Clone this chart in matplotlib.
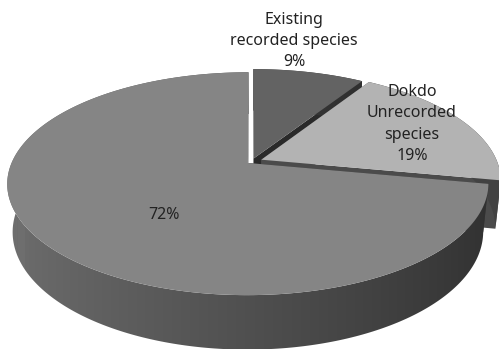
import matplotlib
matplotlib.use("Agg")
import matplotlib.pyplot as plt
from matplotlib.patches import Polygon
import numpy as np

# species share (%)
labels = ["Existing\nrecorded species", "Dokdo\nUnrecorded\nspecies", ""]
values = [9, 19, 72]
tops = ["#636363", "#b3b3b3", "#858585"]
explode = [0.03, 0.045, 0.02]

# camera / pie layout (pixel space)
W, H = 499, 349
cx, cy = 251.6, 161.6
F, D = 1132.0, 4.8
elev = np.radians(27)
se, ce = np.sin(elev), np.cos(elev)
h = 0.23


def proj(X, Y, Z):
    depth = D + Y * ce - Z * se
    up = Y * se + Z * ce
    return cx + F * X / depth, cy - F * up / depth


def shade(color, f):
    c = np.array(matplotlib.colors.to_rgb(color)) * np.asarray(f)[..., None]
    return np.clip(c, 0, 1)


fig = plt.figure(figsize=(4.99, 3.49), dpi=100)
ax = fig.add_axes([0, 0, 1, 1])
ax.set_xlim(0, W)
ax.set_ylim(H, 0)
ax.axis("off")

total = float(sum(values))
starts = np.cumsum([0] + values[:-1]) / total * 2 * np.pi
cols = np.arange(W) + 0.5

for i in range(len(values)):
    t0 = starts[i]
    t1 = t0 + values[i] / total * 2 * np.pi
    mid = (t0 + t1) / 2
    ox, oy = explode[i] * np.sin(mid), explode[i] * np.cos(mid)
    t = np.linspace(t0, t1, 300)
    X = ox + np.sin(t)
    Y = oy + np.cos(t)

    # radial cut faces
    for a in (t0, t1):
        pts = [proj(ox, oy, 0), proj(ox + np.sin(a), oy + np.cos(a), 0),
               proj(ox + np.sin(a), oy + np.cos(a), -h), proj(ox, oy, -h)]
        ax.add_patch(Polygon(pts, closed=True, fc=shade(tops[i], 0.42),
                             ec="none", zorder=i * 3))

    # outer wall: gradient image clipped to the wall outline
    tx, ty = proj(X, Y, 0)
    bx, by = proj(X, Y, -h)
    wall = Polygon(np.column_stack([np.r_[tx, bx[::-1]], np.r_[ty, by[::-1]]]),
                   closed=True, fc="none", ec="none")
    ax.add_patch(wall)
    front = np.cos(t) < 0.15
    if front.sum() < 2:
        front[:] = True
    order = np.argsort(bx[front])
    tf = np.interp(cols, bx[front][order], t[front][order])
    f = 0.6 + 0.23 * (-np.sin(tf))
    img = np.repeat(shade(tops[i], f)[None, :, :], 2, axis=0)
    im = ax.imshow(img, extent=(0, W, H, 0), aspect="auto",
                   interpolation="bilinear", zorder=i * 3 + 1)
    im.set_clip_path(wall)

    # top face
    vx, vy = proj(ox, oy, 0)
    top = np.column_stack([np.r_[vx, tx], np.r_[vy, ty]])
    ax.add_patch(Polygon(top, closed=True, fc=tops[i], ec="none",
                         zorder=i * 3 + 2))

ax.set_xlim(0, W)
ax.set_ylim(H, 0)

font = dict(family=["Noto Sans", "DejaVu Sans"], fontsize=11.5,
            color="#222222", ha="center", va="center", linespacing=1.42,
            zorder=20)
ax.text(294, 41, labels[0] + "\n%d%%" % values[0], **font)
ax.text(412, 124, labels[1] + "\n%d%%" % values[1], **font)
ax.text(164, 215, "%d%%" % values[2], **font)

fig.savefig("out.png", dpi=100, facecolor="white")
